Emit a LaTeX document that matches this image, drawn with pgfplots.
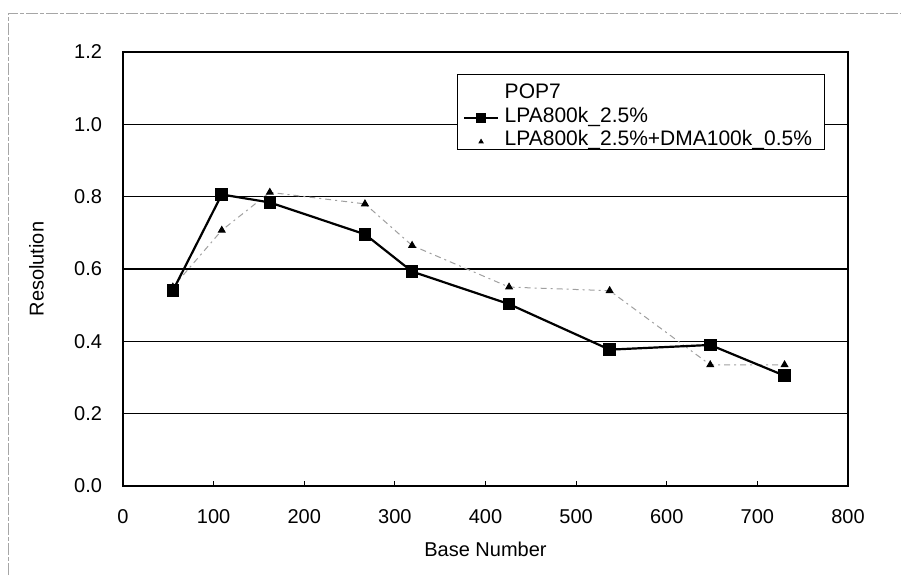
\documentclass[border=0pt]{standalone}
\usepackage{pgfplots}
\pgfplotsset{compat=1.18}
\usepackage{fontspec}
\setmainfont{Liberation Sans}
\begin{document}
\begin{tikzpicture}
\useasboundingbox (0pt,0pt) rectangle (450.5pt,287.5pt);
\draw[gray!70, dash pattern=on 6pt off 1pt on 2pt off 1pt, line width=0.4pt] (4pt,0pt) -- (4pt,281pt) -- (450.5pt,281pt);
\begin{axis}[
  at={(61.5pt,44.5pt)}, anchor=south west,
  scale only axis, width=362.5pt, height=217pt,
  xmin=0, xmax=800, ymin=0, ymax=1.2,
  xtick={0,100,...,800}, ytick={0,0.2,...,1.2},
  tick align=inside, major tick length=2.5pt,
  xtick pos=left, ytick pos=left,
  ymajorgrids, grid style={black, line width=0.6pt},
  axis line style={black, line width=0.6pt},
  tick style={black, line width=0.5pt},
  /pgf/number format/assume math mode=true,
  yticklabel style={/pgf/number format/.cd, fixed, fixed zerofill, precision=1},
  xticklabel style={/pgf/number format/.cd, fixed},
  ticklabel style={font=\fontsize{10}{12}\selectfont},
  xticklabel shift=8pt, yticklabel shift=7pt,
  xlabel={Base Number}, ylabel={Resolution},
  label style={font=\fontsize{10}{12}\selectfont},
  xlabel style={at={(axis description cs:0.5,0)}, anchor=north, yshift=-24.5pt},
  ylabel style={at={(axis description cs:0,0.5)}, anchor=south, yshift=36pt},
  legend style={at={(0.4607,0.949)}, anchor=north west,
    draw=black, line width=0.4pt, font=\fontsize{10.5}{12}\selectfont,
    row sep=0.3pt, inner xsep=3pt, inner ysep=1pt, fill=white,
    nodes={inner xsep=3pt, inner ysep=0.7pt, text height=10.2pt, text depth=0pt}},
  legend image post style={yshift=-3pt},
  legend cell align=left,
]
\addplot[gray!75, line width=0.5pt, dash pattern=on 3pt off 2pt on 1pt off 2pt,
  mark=triangle*, mark size=1.9pt, mark options={solid, fill=black, draw=black}, forget plot]
  coordinates {(55,0.55) (109,0.707) (162,0.812) (267,0.780) (319,0.665) (426,0.550) (537,0.540) (648,0.335) (730,0.335)};
\addplot[black, line width=1.1pt, mark=square*, mark size=2.6pt, mark options={solid, fill=black}, forget plot]
  coordinates {(55,0.540) (109,0.806) (162,0.784) (267,0.696) (319,0.593) (426,0.503) (537,0.377) (648,0.390) (730,0.305)};
\addlegendimage{empty legend}
\addlegendentry{POP7}
\addlegendimage{black, line width=0.6pt, mark=square*, mark size=2.2pt, mark options={solid, fill=black}}
\addlegendentry{LPA800k\_2.5\%}
\addlegendimage{only marks, mark=triangle*, mark size=1.2pt, mark options={fill=black}}
\addlegendentry{LPA800k\_2.5\%+DMA100k\_0.5\%}
\end{axis}
\end{tikzpicture}
\end{document}
